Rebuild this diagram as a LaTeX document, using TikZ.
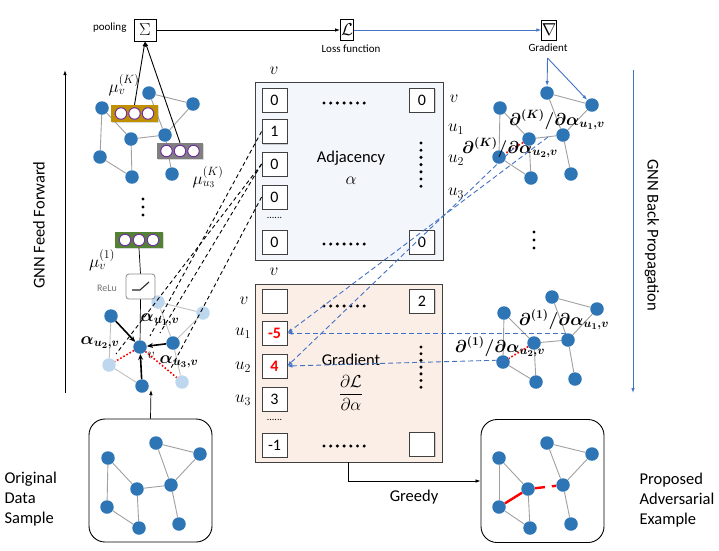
\documentclass[tikz,border=0pt]{standalone}
\usepackage{amsmath}
\usepackage{bm}
\usepackage{fontspec}
\setmainfont{Carlito}
\usetikzlibrary{arrows.meta,shadows}
\definecolor{nodeblue}{HTML}{2E75B6}
\definecolor{lightnode}{HTML}{BDD7EE}
\definecolor{edgegray}{HTML}{A0A0A0}
\definecolor{goldc}{HTML}{BF9000}
\definecolor{grayc}{HTML}{7F7F7F}
\definecolor{greenc}{HTML}{548235}
\definecolor{purplec}{HTML}{7030A0}
\definecolor{adjfill}{HTML}{F3F6FA}
\definecolor{gradfill}{HTML}{FBEEE7}
\definecolor{bluel}{HTML}{4472C4}
\definecolor{redc}{HTML}{FF0000}
\pgfdeclarelayer{bg}
\pgfsetlayers{bg,main}
\begin{document}
\begin{tikzpicture}[x=1pt,y=-1pt,
  big/.style={font=\fontsize{16.5}{20}\selectfont},
  small/.style={font=\fontsize{11}{13}\selectfont},
  mlab/.style={font=\fontsize{18}{20}\selectfont},
  blab/.style={font=\fontsize{17.5}{20}\selectfont},
  gnode/.style={circle,fill=nodeblue,minimum size=13.5pt,inner sep=0pt},
  lnode/.style={circle,fill=lightnode,minimum size=13.5pt,inner sep=0pt},
  gedge/.style={draw=edgegray,line width=0.9pt},
  cell/.style={draw=black!75,fill=white,line width=0.8pt,minimum width=25pt,minimum height=24pt,inner sep=0pt,font=\fontsize{16}{18}\selectfont,drop shadow={shadow xshift=1pt,shadow yshift=-1pt,opacity=0.35}},
  vecbox/.style={minimum width=47pt,minimum height=17pt,inner sep=0pt,drop shadow={shadow xshift=1pt,shadow yshift=-1pt,opacity=0.3}},
  vcirc/.style={circle,draw=purplec,fill=white,line width=1pt,minimum size=11.5pt,inner sep=0pt},
  opbox/.style={draw,line width=0.8pt,inner sep=0pt,font=\fontsize{17}{19}\selectfont},
  arr/.style={-{Latex[length=5pt,width=3.5pt]}},
  bdash/.style={draw=black,dash pattern=on 4pt off 3pt,line width=0.9pt},
  bldash/.style={draw=bluel,dash pattern=on 5pt off 3pt,line width=0.9pt,-{Latex[length=5pt,width=4pt]}},
  boldarr/.style={line width=1.6pt,-{Stealth[length=6pt,width=5pt]}},
  reddot/.style={draw=redc,line width=1.6pt,dotted},
  frame/.style={draw,line width=0.9pt,rounded corners=16pt,minimum width=123pt,minimum height=123pt}
]
\useasboundingbox (0,0) rectangle (719,550);

% ---------------- top row ----------------
\node[opbox,minimum size=22pt] (sigma) at (145,30) {$\Sigma$};
\node[small,anchor=east] (pool) at (130,28) {pooling};
\node[opbox,minimum width=13pt,minimum height=21pt] (loss) at (347,30) {$\mathcal{L}$};
\node[small] (losslbl) at (351,49) {Loss function};
\node[opbox,minimum width=14pt,minimum height=20pt] (nabla) at (549,30) {$\nabla$};
\node[small] (gradlbl) at (548,48) {Gradient};
\draw[arr,line width=0.9pt] (sigma) -- (loss);
\draw[arr,draw=bluel,line width=0.9pt] (loss) -- (nabla);

% ---------------- side arrows ----------------
\coordinate (ffbot) at (65,393);
\coordinate (fftop) at (65,70);
\draw[arr,line width=0.9pt] (ffbot) -- (fftop);
\node[big,rotate=90] (fftext) at (39,225) {GNN Feed Forward};
\coordinate (bptop) at (633,70);
\coordinate (bpbot) at (633,393);
\draw[arr,draw=bluel,line width=0.9pt] (bptop) -- (bpbot);
\node[big,rotate=-90] (bptext) at (652,235) {GNN Back Propagation};

% ---------------- graphs: nodes ----------------
\foreach \n/\x/\y in {A/102/108,B/149/93,C/193/104,D/131/139,E/165/135,F/100/157,G/132/177,H/172/174}
  \node[gnode] (ul\n) at (\x,\y) {};
\foreach \n/\x/\y in {A/500/108,B/547/93,C/592/105,D/529/139,E/563/135,F/499/157,G/531/178,H/571/174}
  \node[gnode] (tr\n) at (\x,\y) {};
\foreach \n/\x/\y in {A/504/313,B/552/297,C/597/309,D/534/343,E/568/340,F/503/362,G/536/382,H/575/379}
  \node[gnode] (br\n) at (\x,\y) {};
\foreach \n/\x/\y in {A/108/458,B/156/443,C/200/454,D/137/489,E/171/485,F/107/507,G/139/528,H/179/524}
  \node[gnode] (og\n) at (\x,\y) {};
\foreach \n/\x/\y in {A/499/458,B/547/443,C/592/454,D/528/489,E/563/485,F/499/507,G/530/528,H/571/524}
  \node[gnode] (pp\n) at (\x,\y) {};
\foreach \n/\x/\y in {A/111/316,D/140/347,E/173/343,G/142/386}
  \node[gnode] (lg\n) at (\x,\y) {};
\foreach \n/\x/\y in {B/158/302,C/203/313,F/109/365,H/182/382}
  \node[lnode] (lg\n) at (\x,\y) {};

\begin{pgfonlayer}{bg}
\foreach \g in {ul,tr,br,og}
  \foreach \a/\b in {A/D,A/F,F/G,D/G,D/E,B/C,B/E,C/E,E/H}
    \draw[gedge] (\g\a) -- (\g\b);
\foreach \a/\b in {A/D,A/F,F/G,D/G,B/C,B/E,C/E,E/H}
  \draw[gedge] (pp\a) -- (pp\b);
\foreach \a/\b in {A/F,F/G,B/C,B/E,C/E,E/H}
  \draw[draw=black!25,line width=0.9pt] (lg\a) -- (lg\b);
\end{pgfonlayer}

% red edits
\draw[reddot] (trD) -- (trF);
\draw[reddot] (brD) -- (brF);
\draw[reddot] (lgD) -- (lgF);
\draw[reddot] (lgD) -- (lgH);
\draw[draw=redc,line width=2.4pt] (ppF) -- (ppD);
\draw[draw=redc,line width=2.4pt,dash pattern=on 10pt off 7pt] (ppD) -- (ppE);

% local graph bold arrows
\draw[boldarr] (lgA) -- (lgD);
\draw[boldarr] (lgE) -- (lgD);
\draw[boldarr] (lgG) -- (lgD);

% frames
\node[frame] (orig) at (150.5,480.5) {};
\node[frame] (prop) at (542.5,481) {};
\coordinate (origup) at (151,390);
\draw[arr,line width=0.7pt] (orig.north) -- (origup);
\node[big,align=left,anchor=west] (origtxt) at (1,499) {Original\\Data\\Sample};
\node[big,align=left,anchor=west] (proptxt) at (636,500) {Proposed\\Adversarial\\Example};

% ---------------- vector boxes ----------------
\node[vecbox,fill=goldc] (gk) at (134.5,113.5) {};
\foreach \i in {-1,0,1} \node[vcirc] (gk\i) at ([xshift=\i*13.5pt]gk.center) {};
\node[vecbox,fill=grayc,minimum width=46pt,minimum height=16pt] (gy) at (180,151) {};
\foreach \i in {-1,0,1} \node[vcirc] (gy\i) at ([xshift=\i*13.5pt]gy.center) {};
\node[vecbox,fill=greenc,minimum width=48pt,minimum height=16pt] (gg) at (139,240) {};
\foreach \i in {-1,0,1} \node[vcirc] (gg\i) at ([xshift=\i*14pt]gg.center) {};
\draw[arr,line width=0.9pt] (gk.north) -- (sigma.south);
\draw[arr,line width=0.9pt] (gy.north) -- (sigma.south);

\node[blab] (muvk) at (124,85) {$\mu_v^{(K)}$};
\node[blab] (muuk) at (208,177) {$\mu_{u_3}^{(K)}$};
\node[blab] (muv1) at (102,260) {$\mu_v^{(1)}$};

\foreach \yy in {199,207,215} \fill (143,\yy) circle (1.7pt);
\foreach \yy in {232,240,248} \fill (534,\yy) circle (1.7pt);

% ReLu
\node[draw=black!45,rounded corners=3pt,minimum width=29pt,minimum height=25pt,fill=white,line width=0.8pt] (relu) at (140.5,286.5) {};
\draw[line width=1.1pt,black!85] (132,290) -- (140,290) -- (149,282);
\node[font=\fontsize{10}{12}\selectfont,text=black!55] (relulbl) at (107,288) {ReLu};
\draw[line width=0.7pt] (gg.south) -- (relu.north);
\draw[line width=0.7pt] (relu.south) -- (lgD);

% local labels
\node[font=\fontsize{14}{16}\selectfont] (vlbl) at (151,355) {$v$};
\node[blab] (al1) at (160,320) {$\bm{\alpha_{u_1,v}}$};
\node[blab] (al2) at (100,343) {$\bm{\alpha_{u_2,v}}$};
\node[blab] (al3) at (179,362) {$\bm{\alpha_{u_3,v}}$};

% right labels
\node[blab] (dk1) at (557,120) {$\bm{\partial^{(K)}/\partial\alpha_{u_1,v}}$};
\node[blab] (dk2) at (510,148) {$\bm{\partial^{(K)}/\partial\alpha_{u_2,v}}$};
\node[blab] (d11) at (564,320) {$\bm{\partial^{(1)}/\partial\alpha_{u_1,v}}$};
\node[blab] (d12) at (500,347) {$\bm{\partial^{(1)}/\partial\alpha_{u_2,v}}$};

% gradient arrows
\coordinate (gstart) at (547.5,58);
\draw[arr,draw=bluel,line width=0.9pt] (gstart) -- (trB);
\draw[arr,draw=bluel,line width=0.9pt] (gstart) -- (trC);

% ---------------- adjacency matrix ----------------
\node[draw=black!75,fill=adjfill,line width=0.8pt,minimum width=188pt,minimum height=178pt] (adj) at (349,171) {};
\node[cell] (a0) at (274.5,100) {0};
\node[cell] (a1) at (274.5,131.5) {1};
\node[cell] (a2) at (274.5,164) {0};
\node[cell] (a3) at (274.5,197) {0};
\node[cell] (a5) at (274.5,242) {0};
\node[cell] (ar0) at (422,100) {0};
\node[cell] (ar5) at (422,242) {0};
\node[font=\fontsize{10}{12}\selectfont] (adots) at (274.5,218) {......};
\foreach \i in {0,...,6} {\fill (324+\i*6.7,103) circle (1.7pt); \fill (324+\i*6.7,244) circle (1.7pt); \fill (421,143+\i*7.2) circle (1.7pt);}
\node[big] (adjtxt) at (351,158) {Adjacency};
\node[mlab] (adjal) at (351,181) {$\alpha$};
\node[mlab] (adjv) at (274,71) {$v$};
\node[mlab] (rv) at (454,99) {$v$};
\node[mlab] (ru1) at (456,129) {$u_1$};
\node[mlab] (ru2) at (456,160) {$u_2$};
\node[mlab] (ru3) at (456,193) {$u_3$};

% ---------------- gradient matrix ----------------
\node[draw=black!75,fill=gradfill,line width=0.8pt,minimum width=187pt,minimum height=178pt] (grad) at (348.5,373) {};
\node[cell] (g0) at (274.5,301) {};
\node[cell,text=redc,font=\fontsize{16}{18}\selectfont\bfseries] (g1) at (274.5,333) {-5};
\node[cell,text=redc,font=\fontsize{16}{18}\selectfont\bfseries] (g2) at (274.5,366) {4};
\node[cell] (g3) at (274.5,399) {3};
\node[cell] (g5) at (274.5,445) {-1};
\node[cell] (gr0) at (422,301) {2};
\node[cell] (gr5) at (422,444) {};
\node[font=\fontsize{10}{12}\selectfont] (gdots) at (274.5,420) {......};
\foreach \i in {0,...,6} {\fill (324+\i*6.7,306) circle (1.7pt); \fill (324+\i*6.7,446) circle (1.7pt); \fill (421,347+\i*6.7) circle (1.7pt);}
\node[big] (gradtxt) at (351,360) {Gradient};
\node[mlab] (gradfrac) at (351,393) {$\dfrac{\partial\mathcal{L}}{\partial\alpha}$};
\node[mlab] (gv) at (274,272) {$v$};
\node[mlab] (lv) at (244,301) {$v$};
\node[mlab] (lu1) at (243,333) {$u_1$};
\node[mlab] (lu2) at (243,367) {$u_2$};
\node[mlab] (lu3) at (243,400) {$u_3$};

% greedy
\draw[arr,line width=0.7pt] (grad.south) |- (prop.west);
\node[big] (greedy) at (414,497) {Greedy};

% ---------------- dashed correspondences ----------------
\coordinate (dkA) at (150,336);
\coordinate (dkB) at (116,354);
\coordinate (dkC) at (170,370);
\coordinate (dkD) at (160,333);
\draw[bdash] (a1.west) -- (dkA);
\draw[bdash] (a2.west) -- (dkB);
\draw[bdash] (a3.west) -- (dkC);
\draw[bdash] (a2.west) -- (dkD);

\coordinate (bk1) at (548,137);
\coordinate (bk2) at (514,148);
\coordinate (b11) at (566,333);
\coordinate (b12) at (505,360);
\draw[bldash] (bk1) -- (g1.east);
\draw[bldash] (bk2) -- (g2.east);
\draw[bldash] (b11) -- (g1.east);
\draw[bldash] (b12) -- (g2.east);
\end{tikzpicture}
\end{document}
